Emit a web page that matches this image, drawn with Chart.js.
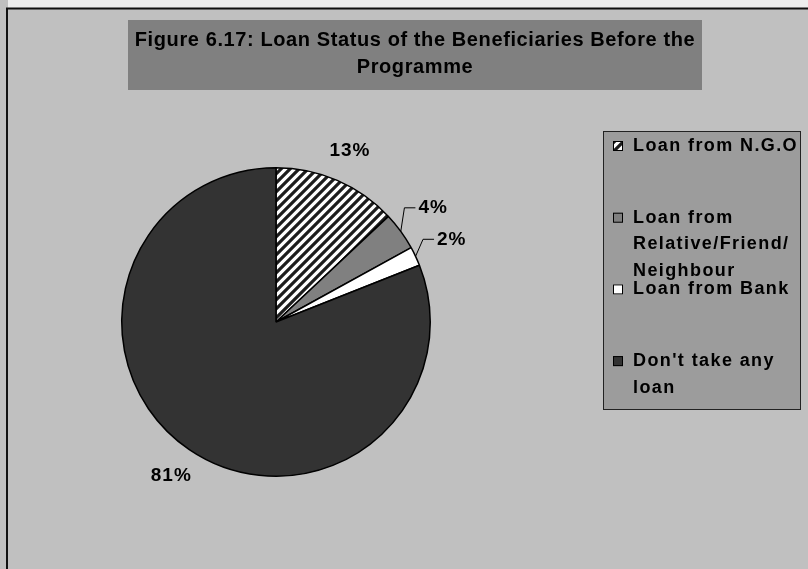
<!DOCTYPE html>
<html>
<head>
<meta charset="utf-8">
<title>Loan Status of the Beneficiaries</title>
<script src="https://cdn.jsdelivr.net/npm/chart.js@4.4.1/dist/chart.umd.min.js"></script>
<style>
  html, body { margin: 0; padding: 0; background: #c0c0c0; }
</style>
</head>
<body>
<canvas id="myChart" width="808" height="569"></canvas>
<script>
var titleLines = ['Figure 6.17: Loan Status of the Beneficiaries Before the', 'Programme'];
var categories = ['Loan from N.G.O', 'Loan from Relative/Friend/Neighbour', 'Loan from Bank', "Don't take any loan"];
var legendLines = [['Loan from N.G.O'], ['Loan from', 'Relative/Friend/', 'Neighbour'], ['Loan from Bank'], ["Don't take any", 'loan']];
var shares = [13, 4, 2, 81];

var FONT = '"Liberation Sans", Arial, sans-serif';

// diagonal hatch used for the N.G.O slice
function hatch() {
  var c = document.createElement('canvas');
  c.width = 9; c.height = 9;
  var g = c.getContext('2d');
  g.fillStyle = '#ffffff';
  g.fillRect(0, 0, 9, 9);
  g.strokeStyle = '#1c1c1c';
  g.lineWidth = 3.2;
  g.beginPath();
  g.moveTo(-2, 2); g.lineTo(2, -2);
  g.moveTo(-2, 11); g.lineTo(11, -2);
  g.moveTo(7, 11); g.lineTo(11, 7);
  g.stroke();
  return g.createPattern(c, 'repeat');
}

var sliceColors = [hatch(), '#808080', '#ffffff', '#333333'];

var frame = {
  id: 'frame',
  beforeDraw: function (chart) {
    var ctx = chart.ctx;
    ctx.save();
    ctx.fillStyle = '#c0c0c0';
    ctx.fillRect(0, 0, chart.width, chart.height);
    ctx.fillStyle = '#eeeeee';
    ctx.fillRect(8, 0, chart.width, 8);
    ctx.strokeStyle = '#111';
    ctx.lineWidth = 2;
    ctx.beginPath();
    ctx.moveTo(7, chart.height);
    ctx.lineTo(7, 8.5);
    ctx.lineTo(chart.width, 8.5);
    ctx.stroke();

    // title box
    ctx.fillStyle = '#808080';
    ctx.fillRect(128, 20, 574, 70);
    ctx.fillStyle = '#000';
    ctx.font = 'bold 20px ' + FONT;
    ctx.letterSpacing = '0.6px';
    ctx.textAlign = 'center';
    ctx.textBaseline = 'middle';
    titleLines.forEach(function (t, i) {
      ctx.fillText(t, 415, 40 + i * 27);
    });
    ctx.restore();
  }
};

var sliceLabels = {
  id: 'sliceLabels',
  afterDatasetsDraw: function (chart) {
    var ctx = chart.ctx;
    var meta = chart.getDatasetMeta(0);
    ctx.save();
    ctx.font = 'bold 19px ' + FONT;
    ctx.letterSpacing = '1px';
    ctx.textAlign = 'center';
    ctx.textBaseline = 'middle';
    ctx.fillStyle = '#000';
    ctx.strokeStyle = '#000';
    ctx.lineWidth = 1;
    meta.data.forEach(function (arc, i) {
      var p = arc.getProps(['x', 'y', 'startAngle', 'endAngle', 'outerRadius'], true);
      var mid = (p.startAngle + p.endAngle) / 2;
      var cos = Math.cos(mid), sin = Math.sin(mid);
      var text = shares[i] + '%';
      var small = shares[i] < 5;
      var d = p.outerRadius + (small ? 40 : 32);
      var tx = p.x + cos * d, ty = p.y + sin * d;
      if (small) {
        var left = tx - ctx.measureText(text).width / 2;
        ctx.beginPath();
        ctx.moveTo(p.x + cos * p.outerRadius, p.y + sin * p.outerRadius);
        ctx.lineTo(left - 14, ty);
        ctx.lineTo(left - 3, ty);
        ctx.stroke();
      }
      ctx.fillText(text, tx, ty);
    });
    ctx.restore();
  }
};

var sideLegend = {
  id: 'sideLegend',
  afterDraw: function (chart) {
    var ctx = chart.ctx;
    var box = { x: 603, y: 131, w: 197, h: 278 };
    ctx.save();
    ctx.fillStyle = '#9c9c9c';
    ctx.fillRect(box.x, box.y, box.w, box.h);
    ctx.strokeStyle = '#222';
    ctx.lineWidth = 1;
    ctx.strokeRect(box.x + 0.5, box.y + 0.5, box.w, box.h);

    ctx.font = 'bold 18px ' + FONT;
    ctx.letterSpacing = '1.4px';
    ctx.textAlign = 'left';
    ctx.textBaseline = 'middle';
    var colors = chart.data.datasets[0].backgroundColor;
    legendLines.forEach(function (lines, i) {
      var y = box.y + 15 + i * 71.7;
      ctx.fillStyle = colors[i];
      ctx.fillRect(613, y - 5, 10, 10);
      ctx.strokeStyle = '#000';
      ctx.strokeRect(613.5, y - 4.5, 9, 9);
      ctx.fillStyle = '#000';
      lines.forEach(function (t, j) {
        ctx.fillText(t, 633, y + j * 26.5);
      });
    });
    ctx.restore();
  }
};

var ctx = document.getElementById('myChart');
var myChart = new Chart(ctx, {
  type: 'pie',
  data: {
    labels: categories,
    datasets: [{
      data: shares,
      backgroundColor: sliceColors,
      borderColor: '#000',
      borderWidth: 1.5
    }]
  },
  options: {
    responsive: false,
    animation: false,
    devicePixelRatio: 1,
    layout: { padding: { left: 121, right: 377, top: 167, bottom: 92 } },
    plugins: {
      legend: { display: false },
      tooltip: { enabled: false },
      title: { display: false }
    }
  },
  plugins: [frame, sliceLabels, sideLegend]
});
</script>
</body>
</html>
